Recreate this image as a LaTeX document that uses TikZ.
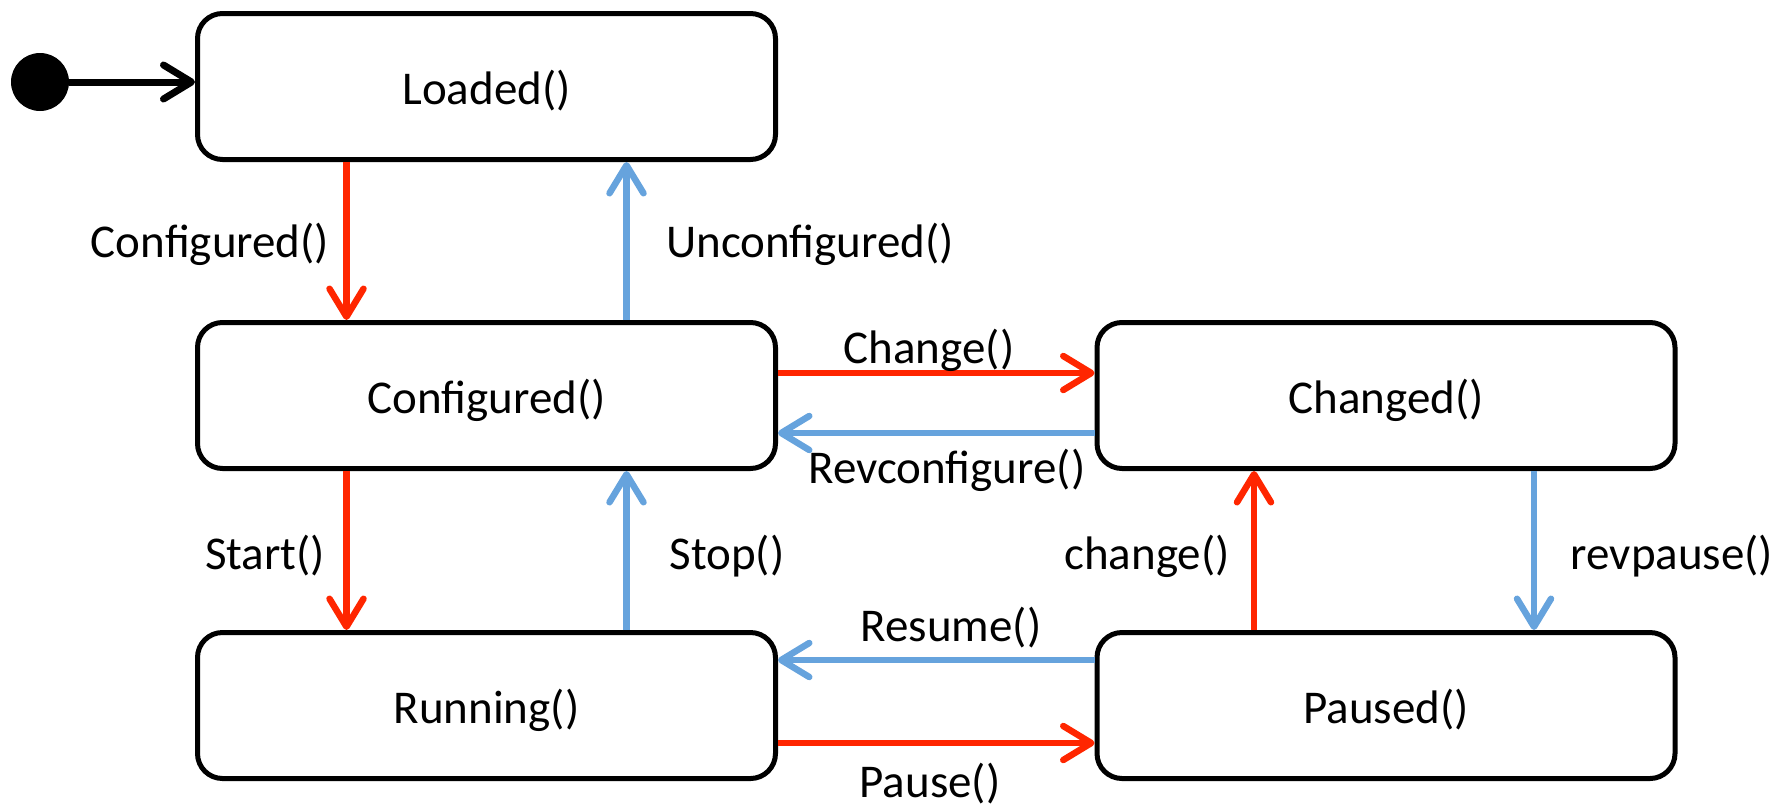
\documentclass[tikz,border=0pt]{standalone}
\usepackage{fontspec}
\setmainfont{Carlito}
\usetikzlibrary{arrows.meta}
\definecolor{fwdred}{RGB}{255,38,0}
\definecolor{backblue}{RGB}{102,163,221}
\begin{document}
\begin{tikzpicture}[x=1pt,y=-1pt,
  statebox/.style={draw=black, line width=5pt, rounded corners=25pt,
    minimum width=578pt, minimum height=146pt, fill=white,
    text height=40pt, text depth=4pt,
    font=\fontsize{47}{55}\selectfont},
  trans/.style={line width=6.5pt,
    -{Straight Barb[length=28pt,width=34pt,round]}},
  fwd/.style={trans, draw=fwdred},
  back/.style={trans, draw=backblue},
  lbl/.style={font=\fontsize{47}{55}\selectfont, inner sep=0pt}
]
\useasboundingbox (0,0) rectangle (1783,807);

% states
\node[statebox] (loaded)  at (486.5, 86.5) {Loaded()};
\node[statebox] (conf)    at (486.5,395.5) {Configured()};
\node[statebox] (run)     at (486.5,705.5) {Running()};
\node[statebox] (changed) at (1386, 395.5) {Changed()};
\node[statebox] (paused)  at (1386, 705.5) {Paused()};

% initial pseudo-state
\node[circle, fill=black, minimum size=58pt, inner sep=0pt] (init) at (40,82) {};
\draw[line width=7pt, -{Straight Barb[length=28pt,width=34pt,round]}]
  (init.east) -- (init.east -| loaded.west);

% Loaded <-> Configured
\draw[fwd]  ([xshift=-140pt]loaded.south) -- ([xshift=-140pt]conf.north);
\draw[back] ([xshift=140pt]conf.north) -- ([xshift=140pt]loaded.south);

% Configured <-> Running
\draw[fwd]  ([xshift=-140pt]conf.south) -- ([xshift=-140pt]run.north);
\draw[back] ([xshift=140pt]run.north) -- ([xshift=140pt]conf.south);

% Configured <-> Changed
\draw[fwd]  ([yshift=22.5pt]conf.east) -- ([yshift=22.5pt]changed.west);
\draw[back] ([yshift=-37.5pt]changed.west) -- ([yshift=-37.5pt]conf.east);

% Running <-> Paused
\draw[back] ([yshift=45.5pt]paused.west) -- ([yshift=45.5pt]run.east);
\draw[fwd]  ([yshift=-37.5pt]run.east) -- ([yshift=-37.5pt]paused.west);

% Changed <-> Paused
\draw[fwd]  ([xshift=-132pt]paused.north) -- ([xshift=-132pt]changed.south);
\draw[back] ([xshift=148pt]changed.south) -- ([xshift=148pt]paused.north);

% transition labels
\node[lbl] (lconf)   at (210,244) {Configured()};
\node[lbl] (lunconf) at (810,244) {Unconfigured()};
\node[lbl] (lchange) at (929,350) {Change()};
\node[lbl] (lrevc)   at (947,470) {Revconfigure()};
\node[lbl] (lstart)  at (265,556) {Start()};
\node[lbl] (lstop)   at (727,556) {Stop()};
\node[lbl] (lchg)    at (1147,556) {change()};
\node[lbl] (lrevp)   at (1672,556) {revpause()};
\node[lbl] (lresume) at (951,628) {Resume()};
\node[lbl] (lpause)  at (930,784) {Pause()};
\end{tikzpicture}
\end{document}
